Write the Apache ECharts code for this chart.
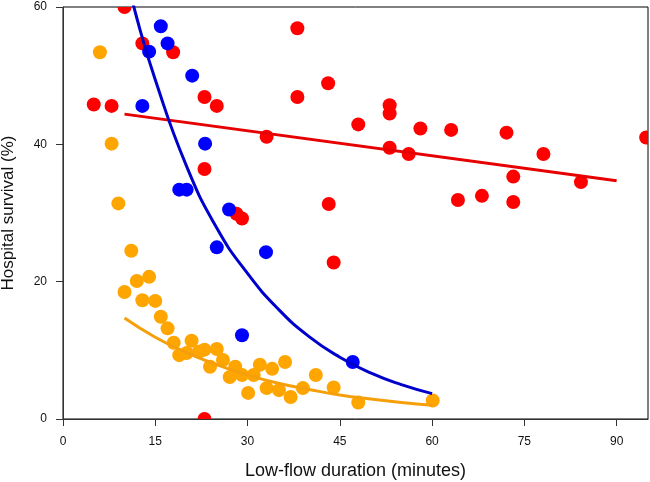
<!DOCTYPE html>
<html>
<head>
<meta charset="utf-8">
<script src="https://cdn.jsdelivr.net/npm/echarts@6/dist/echarts.min.js"></script>
<style>
  html, body { margin: 0; padding: 0; background: #fff; }
  #chart { width: 650px; height: 482px; }
</style>
</head>
<body>
<div id="chart"></div>
<script>
// scatter points [minutes, survival %]
const redPoints = [
  [10, 60], [5, 45.8], [7.9, 45.6], [12.9, 54.7], [17.9, 53.4], [23, 46.9], [25, 45.6],
  [33.1, 41.1], [23, 36.4], [28.2, 29.9], [29.1, 29.2], [38.1, 56.9], [38.1, 46.9],
  [43.1, 48.9], [43.2, 31.3], [44, 22.8], [23, 0], [48, 42.9], [53.1, 45.7], [53.1, 44.5],
  [53.1, 39.5], [56.2, 38.6], [58.1, 42.3], [63.1, 42.1], [64.2, 31.9], [68.1, 32.5],
  [72.1, 41.7], [73.2, 35.3], [73.2, 31.6], [78.1, 38.6], [84.2, 34.5], [94.8, 41.0]
];
const orangePoints = [
  [6, 53.4], [7.9, 40.1], [9, 31.4], [11.1, 24.5], [10, 18.5], [12, 20.1], [14, 20.7],
  [12.9, 17.3], [15, 17.2], [15.9, 14.9], [17, 13.2], [18, 11.1], [20.9, 11.4], [18.9, 9.3],
  [20.1, 9.6], [22.1, 9.8], [23, 10.1], [25, 10.2], [23.9, 7.6], [26, 8.6], [28, 7.6],
  [27.1, 6.1], [29.1, 6.4], [31, 6.4], [32, 7.9], [30.1, 3.8], [33.1, 4.5], [34, 7.3],
  [35.1, 4.2], [36.1, 8.3], [37, 3.2], [39, 4.5], [41.1, 6.4], [44, 4.6], [48, 2.4], [60.1, 2.7]
];
const bluePoints = [
  [15.9, 57.2], [17, 54.7], [14, 53.5], [21, 50.0], [12.9, 45.6], [23.1, 40.1],
  [18.9, 33.4], [20.1, 33.4], [27, 30.5], [25, 25.0], [33, 24.3], [29.1, 12.2], [47.1, 8.3]
];

// fitted lines
const redFit = [[10, 44.4], [90, 34.7]];
const blueFit = [
  [10, 65.8], [12, 58.4], [15, 49.4], [20, 37.0], [25, 27.8], [30, 21.2], [35, 16.0],
  [40, 12.0], [45, 9.0], [50, 6.7], [55, 5.0], [60, 3.7]
];
const orangeFit = [
  [10, 14.7], [15, 11.9], [20, 9.7], [25, 7.9], [30, 6.4], [35, 5.2], [40, 4.3],
  [45, 3.5], [50, 2.9], [55, 2.4], [60, 2.0]
];

const xTicks = [0, 15, 30, 45, 60, 75, 90];
const yTicks = [0, 20, 40, 60];

const font = 'Liberation Sans, Arial, sans-serif';
const chart = echarts.init(document.getElementById('chart'));

// custom series so dots are cut at the plot frame like in R
const dot = (name, data, color) => ({
  name: name,
  type: 'custom',
  data: data,
  clip: true,
  renderItem: (params, api) => {
    const p = api.coord([api.value(0), api.value(1)]);
    return {
      type: 'circle',
      shape: { cx: p[0], cy: p[1], r: 7 },
      style: { fill: color }
    };
  },
  z: 3
});
const fit = (name, data, color) => ({
  name: name,
  type: 'line',
  data: data,
  smooth: true,
  showSymbol: false,
  clip: true,
  lineStyle: { color: color, width: 3 },
  emphasis: { disabled: true },
  z: 4
});

chart.setOption({
  animation: false,
  grid: {
    left: 63, right: 2, top: 7, bottom: 63,
    containLabel: false,
    outerBoundsMode: 'none',
    show: true, borderColor: '#000', borderWidth: 1
  },
  xAxis: {
    type: 'value',
    min: 0, max: 95.1, interval: 15,
    name: 'Low-flow duration (minutes)',
    nameLocation: 'middle',
    nameGap: 43,
    nameTextStyle: { fontFamily: font, fontSize: 18, color: '#111' },
    axisLine: { show: true, lineStyle: { color: '#333', width: 1 } },
    axisTick: { show: true, inside: false, length: 7, lineStyle: { color: '#333' }, customValues: xTicks },
    axisLabel: { margin: 17, fontFamily: font, fontSize: 12, color: '#111', customValues: xTicks },
    splitLine: { show: false }
  },
  yAxis: {
    type: 'value',
    min: 0, max: 60, interval: 20,
    name: 'Hospital survival (%)',
    nameLocation: 'middle',
    nameGap: 46,
    nameTextStyle: { fontFamily: font, fontSize: 17, color: '#111' },
    axisLine: { show: true, lineStyle: { color: '#333', width: 1 } },
    axisTick: { show: true, inside: false, length: 7, lineStyle: { color: '#333' }, customValues: yTicks },
    axisLabel: { margin: 16, fontFamily: font, fontSize: 12, color: '#111', customValues: yTicks },
    splitLine: { show: false }
  },
  series: [
    dot('red', redPoints, '#ff0000'),
    dot('orange', orangePoints, '#ffa500'),
    dot('blue', bluePoints, '#0000ff'),
    fit('redFit', redFit, '#e60000'),
    fit('blueFit', blueFit, '#0000cc'),
    fit('orangeFit', orangeFit, '#f5a00a')
  ]
});
</script>
</body>
</html>
